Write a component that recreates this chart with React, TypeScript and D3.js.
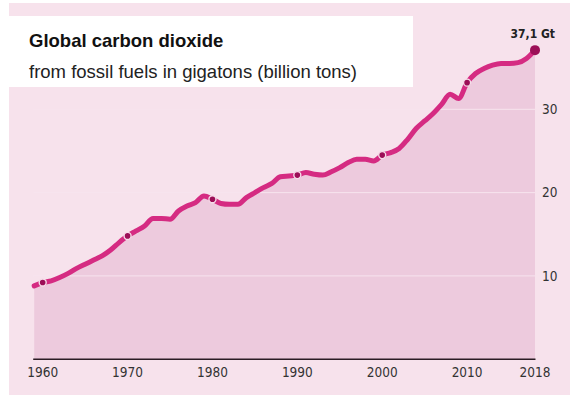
import React from 'react';
import * as d3 from 'd3';

// fossil CO2 emissions, gigatons per year
const years = [
  1959, 1960, 1961, 1962, 1963, 1964, 1965, 1966, 1967, 1968, 1969,
  1970, 1971, 1972, 1973, 1974, 1975, 1976, 1977, 1978, 1979,
  1980, 1981, 1982, 1983, 1984, 1985, 1986, 1987, 1988, 1989,
  1990, 1991, 1992, 1993, 1994, 1995, 1996, 1997, 1998, 1999,
  2000, 2001, 2002, 2003, 2004, 2005, 2006, 2007, 2008, 2009,
  2010, 2011, 2012, 2013, 2014, 2015, 2016, 2017, 2018,
];
const emissions = [
  8.8, 9.2, 9.4, 9.8, 10.3, 10.9, 11.4, 11.9, 12.4, 13.1, 14.0,
  14.8, 15.4, 16.0, 16.9, 16.9, 16.8, 17.8, 18.4, 18.8, 19.6,
  19.2, 18.7, 18.6, 18.6, 19.4, 20.0, 20.6, 21.1, 21.9, 22.0,
  22.1, 22.4, 22.2, 22.1, 22.5, 23.0, 23.6, 24.0, 24.0, 23.8,
  24.5, 24.8, 25.3, 26.4, 27.7, 28.6, 29.5, 30.6, 31.8, 31.3,
  33.2, 34.3, 34.9, 35.3, 35.5, 35.5, 35.6, 36.1, 37.1,
];
const markedYears = [1960, 1970, 1980, 1990, 2000, 2010];
const xTicks = [1960, 1970, 1980, 1990, 2000, 2010, 2018];
const yTicks = [10, 20, 30];
const lastLabel = '37,1 Gt';
const title = 'Global carbon dioxide';
const subtitle = 'from fossil fuels in gigatons (billion tons)';

const width = 570;
const height = 396;
const bg = '#f7e2ec';
const areaFill = '#edcadd';
const lineColor = '#d52b82';
const dotColor = '#9c0e57';
const narrow = "'DejaVu Sans Condensed', 'DejaVu Sans', sans-serif";
const sans = "'Liberation Sans', Arial, sans-serif";

export default function App() {
  const data = years.map((y, i) => ({ year: y, value: emissions[i] }));

  const x = d3.scaleLinear().domain([1959, 2018]).range([34.2, 535]);
  const y = d3.scaleLinear().domain([0, 10]).range([359.2, 275.9]);

  const line = d3.line<{ year: number; value: number }>()
    .x(d => x(d.year))
    .y(d => y(d.value))
    .curve(d3.curveMonotoneX);

  const area = d3.area<{ year: number; value: number }>()
    .x(d => x(d.year))
    .y0(y(0))
    .y1(d => y(d.value))
    .curve(d3.curveMonotoneX);

  const last = data[data.length - 1];
  const marks = data.filter(d => markedYears.includes(d.year));

  return (
    <svg width={width} height={height}
      style={{ position: 'absolute', left: 0, top: 0, display: 'block', background: '#fff' }}>
      <rect x={9} y={3} width={width - 9} height={392} fill={bg} />

      {/* area + light gridlines over it */}
      <path d={area(data) || ''} fill={areaFill} />
      {yTicks.map(t => (
        <line key={t} x1={x(1959) - 1} x2={x(2018)} y1={y(t)} y2={y(t)}
          stroke="#f7e4ee" strokeWidth={1} />
      ))}

      <line x1={x(1959) - 1} x2={x(2018) + 0.5} y1={y(0)} y2={y(0)}
        stroke="#2b1c24" strokeWidth={1.6} />

      <path d={line(data) || ''} fill="none" stroke={lineColor} strokeWidth={5}
        strokeLinejoin="round" strokeLinecap="round" />

      {marks.map(d => (
        <circle key={d.year} cx={x(d.year)} cy={y(d.value)} r={3.5}
          fill={dotColor} stroke="#f6dce9" strokeWidth={1.4} />
      ))}
      <circle cx={x(last.year)} cy={y(last.value)} r={5} fill={dotColor} />

      <text x={555} y={37.5} textAnchor="end" fontFamily={narrow} fontSize={12}
        fontWeight="bold" fill="#222" style={{ fontStretch: 'condensed' }}>{lastLabel}</text>

      {yTicks.map(t => (
        <text key={t} x={542} y={y(t) + 4.8} fontFamily={narrow} fontSize={13.5}
          fill="#333" style={{ fontStretch: 'condensed' }}>{t}</text>
      ))}
      {xTicks.map(t => (
        <text key={t} x={x(t)} y={377} textAnchor="middle" fontFamily={narrow}
          fontSize={13.5} fill="#333" style={{ fontStretch: 'condensed' }}>{t}</text>
      ))}

      <rect x={9} y={16} width={404} height={71} fill="#fff" />
      <text x={29} y={47} fontFamily={sans} fontSize={18.5} fontWeight="bold" fill="#111">{title}</text>
      <text x={29} y={78} fontFamily={sans} fontSize={18.5} fill="#222">{subtitle}</text>
    </svg>
  );
}
